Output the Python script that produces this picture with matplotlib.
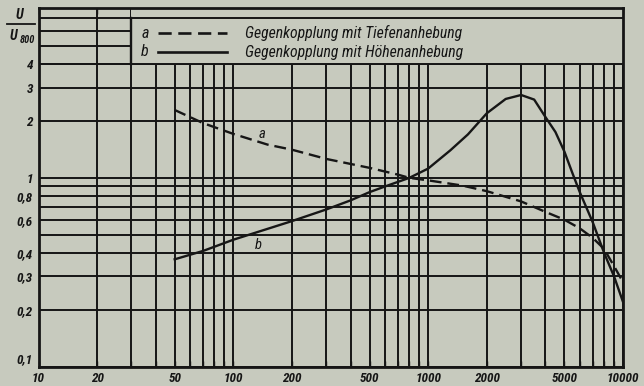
import matplotlib
matplotlib.use("Agg")
import matplotlib.pyplot as plt
from matplotlib import font_manager
from matplotlib.patches import Rectangle
from matplotlib.lines import Line2D

# Frequency response with two kinds of negative feedback (normalised to 800 Hz)
freq_a = [50, 70, 100, 150, 200, 300, 500, 700, 800, 1000, 1500, 2000,
          3000, 4000, 5000, 6000, 7000, 8000, 9000, 10000]
gain_a = [2.29, 1.95, 1.71, 1.50, 1.41, 1.26, 1.13, 1.04, 1.0, 0.97, 0.91, 0.85,
          0.75, 0.66, 0.60, 0.54, 0.48, 0.42, 0.34, 0.28]

freq_b = [50, 70, 100, 200, 300, 400, 500, 600, 800, 1000, 1300, 1600, 2000,
          2500, 3000, 3500, 4000, 4500, 5000, 5500, 6000, 7000, 8000, 9000, 10000]
gain_b = [0.37, 0.41, 0.47, 0.59, 0.68, 0.76, 0.84, 0.90, 1.0, 1.12, 1.40, 1.70, 2.20,
          2.62, 2.75, 2.60, 2.10, 1.75, 1.38, 1.06, 0.84, 0.58, 0.40, 0.30, 0.22]

x_ticks = [10, 20, 50, 100, 200, 500, 1000, 2000, 5000, 10000]
x_labels = ["10", "20", "50", "100", "200", "500", "1000", "2000", "5000", "10000"]
x_grid = [30, 40, 60, 70, 80, 90, 300, 400, 600, 700, 800, 900,
          3000, 4000, 6000, 7000, 8000, 9000]
y_ticks = [0.1, 0.2, 0.3, 0.4, 0.6, 0.8, 1, 2, 3, 4]
y_labels = ["0,1", "0,2", "0,3", "0,4", "0,6", "0,8", "1", "2", "3", "4"]
y_grid = [0.5, 0.7, 0.9, 5, 6, 7]

legend_a = "Gegenkopplung mit Tiefenanhebung"
legend_b = "Gegenkopplung mit Höhenanhebung"

# pick a narrow sans face if one is available
installed = {f.name for f in font_manager.fontManager.ttflist}
family = "DejaVu Sans"
for cand in ["Liberation Sans Narrow", "DejaVu Sans Condensed", "Roboto Condensed"]:
    if cand in installed:
        family = cand
        break
narrow = family != "DejaVu Sans"

paper = "#c7cabe"
ink = "#161616"

W, H = 644, 386
fig = plt.figure(figsize=(W / 100, H / 100), dpi=100, facecolor=paper)
x0, x1, y0, y1 = 38.5, 623.0, 7.5, 366.5
ax = fig.add_axes([x0 / W, 1 - y1 / H, (x1 - x0) / W, (y1 - y0) / H])
ax.set_facecolor(paper)
ax.set_xscale("log")
ax.set_yscale("log")
ax.set_xlim(10, 10000)
ax.set_ylim(0.1, 8)

ax.set_xticks(x_ticks, x_labels)
ax.set_xticks(x_grid, minor=True)
ax.set_yticks(y_ticks, y_labels)
ax.set_yticks(y_grid, minor=True)
ax.xaxis.set_minor_formatter(matplotlib.ticker.NullFormatter())
ax.yaxis.set_minor_formatter(matplotlib.ticker.NullFormatter())
ax.set_axisbelow(True)
ax.grid(True, which="both", color=ink, lw=1.4)
ax.tick_params(which="both", length=0, pad=4)
ax.tick_params(axis="x", which="both", top=True, direction="in", length=4,
               width=1.0, color=ink)

tick_fs = 9.5 if narrow else 8
for lab in ax.get_xticklabels() + ax.get_yticklabels():
    lab.set_fontfamily(family)
    lab.set_fontstyle("italic")
    lab.set_fontweight("bold")
    lab.set_fontsize(tick_fs)
    lab.set_color(ink)
ax.get_yticklabels()[0].set_verticalalignment("bottom")

for s in ax.spines.values():
    s.set_linewidth(2.0)
    s.set_color(ink)

# legend panel in the upper part of the grid
ax.add_patch(Rectangle((30, 4), 10000 - 30, 8 - 4, facecolor=paper,
                       edgecolor="none", zorder=1.2))
ax.plot([30, 30], [4, 7], color=ink, lw=1.7, zorder=1.3)
ax.plot([30, 10000], [7, 7], color=ink, lw=1.4, zorder=1.3)
ax.plot([10, 10000], [4, 4], color=ink, lw=1.4, zorder=1.3)

ax.plot(freq_a, gain_a, color=ink, lw=1.7, dashes=(5, 2.5), zorder=3)
ax.plot(freq_b, gain_b, color=ink, lw=1.7, zorder=3)

txt_kw = dict(family=family, style="italic", color=ink, zorder=4)
ax.text(141, 1.71, "a", fontsize=10.5, ha="center", va="center", **txt_kw)
ax.text(135, 0.44, "b", fontsize=10.5, ha="center", va="center", **txt_kw)


def px(x, y):
    return (x - x0) / (x1 - x0), (y1 - y) / (y1 - y0)


leg_fs = 11.3 if narrow else 9
for ypix, key, style, label in [(33, "a", (5, 2.5), legend_a),
                                (52, "b", None, legend_b)]:
    xa, ya = px(145, ypix)
    ax.text(xa, ya, key, transform=ax.transAxes, fontsize=11.5, ha="center",
            va="center", **txt_kw)
    xs, ys = px(158, ypix)
    xe, _ = px(227, ypix)
    ln = Line2D([xs, xe], [ys, ys], transform=ax.transAxes, color=ink, lw=1.9,
                zorder=4)
    if style:
        ln.set_dashes(style)
    ax.add_line(ln)
    xt, _ = px(245, ypix)
    ax.text(xt, ys, label, transform=ax.transAxes, fontsize=leg_fs, ha="left",
            va="center", **txt_kw)

# axis quantity U / U_800 as a fraction
lab_kw = dict(family=family, style="italic", weight="bold", color=ink)
fig.text(20 / W, 1 - 15 / H, "U", fontsize=10, ha="center", va="center", **lab_kw)
fig.add_artist(Line2D([7 / W, 35 / W], [1 - 23.5 / H, 1 - 23.5 / H],
                      color=ink, lw=1.3))
fig.text(14 / W, 1 - 36 / H, "U", fontsize=10, ha="center", va="center", **lab_kw)
fig.text(20 / W, 1 - 40 / H, "800", fontsize=7.5, ha="left", va="center", **lab_kw)

fig.savefig("out.png", dpi=100, facecolor=paper)
